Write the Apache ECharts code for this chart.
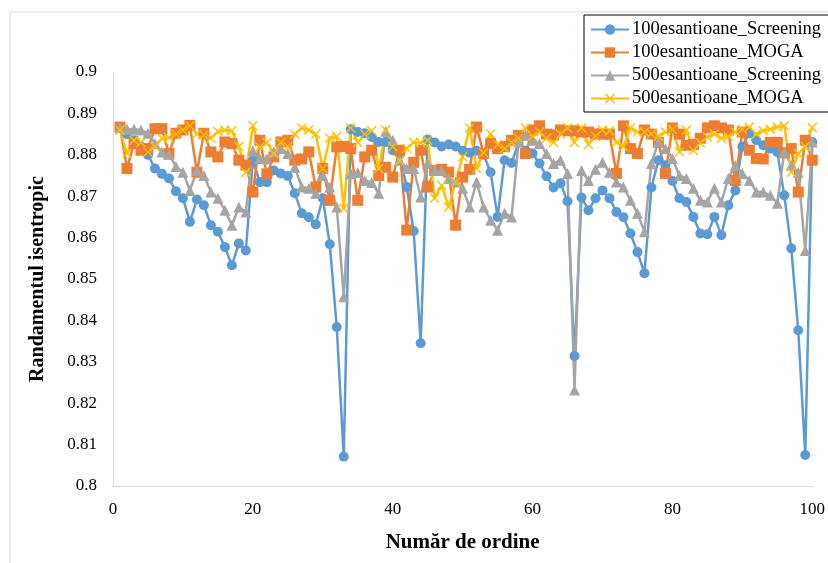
<!DOCTYPE html>
<html>
<head>
<meta charset="utf-8">
<script src="https://cdn.jsdelivr.net/npm/echarts@6/dist/echarts.min.js"></script>
<style>
  html, body { margin: 0; padding: 0; background: #fff; }
  #chart { width: 828px; height: 563px; }
</style>
</head>
<body>
<div id="chart"></div>
<script>
// Sample index (1..100)
const sampleIndex = Array.from({ length: 100 }, (_, k) => k + 1);

const seriesNames = [
  '100esantioane_Screening',
  '100esantioane_MOGA',
  '500esantioane_Screening',
  '500esantioane_MOGA'
];

const screening100 = [
  0.8866, 0.8850, 0.8835, 0.8820, 0.8800, 0.8767, 0.8754, 0.8743, 0.8712, 0.8695,
  0.8638, 0.8692, 0.8678, 0.8630, 0.8614, 0.8577, 0.8533, 0.8586, 0.8569, 0.8786,
  0.8734, 0.8734, 0.8762, 0.8755, 0.8749, 0.8707, 0.8659, 0.8649, 0.8632, 0.8695,
  0.8584, 0.8384, 0.8071, 0.8862, 0.8855, 0.8852, 0.8843, 0.8831, 0.8831, 0.8811,
  0.8800, 0.8722, 0.8616, 0.8345, 0.8837, 0.8830, 0.8820, 0.8825, 0.8820, 0.8810,
  0.8805, 0.8810, 0.8800, 0.8758, 0.8650, 0.8787, 0.8780, 0.8830, 0.8810, 0.8803,
  0.8779, 0.8748, 0.8721, 0.8731, 0.8688, 0.8314, 0.8697, 0.8666, 0.8695, 0.8714,
  0.8695, 0.8662, 0.8649, 0.8610, 0.8565, 0.8514, 0.8721, 0.8787, 0.8775, 0.8737,
  0.8695, 0.8686, 0.8650, 0.8610, 0.8608, 0.8650, 0.8606, 0.8678, 0.8714, 0.8820,
  0.8852, 0.8835, 0.8823, 0.8815, 0.8807, 0.8702, 0.8574, 0.8376, 0.8075, 0.8831
];

const moga100 = [
  0.8867, 0.8767, 0.8827, 0.8811, 0.8815, 0.8863, 0.8863, 0.8803, 0.8852, 0.8860,
  0.8871, 0.8758, 0.8852, 0.8807, 0.8795, 0.8831, 0.8827, 0.8787, 0.8775, 0.8710,
  0.8835, 0.8754, 0.8795, 0.8831, 0.8835, 0.8787, 0.8790, 0.8807, 0.8722, 0.8767,
  0.8690, 0.8819, 0.8820, 0.8815, 0.8690, 0.8795, 0.8811, 0.8750, 0.8770, 0.8746,
  0.8811, 0.8618, 0.8782, 0.8811, 0.8722, 0.8762, 0.8765, 0.8758, 0.8630, 0.8746,
  0.8765, 0.8867, 0.8803, 0.8827, 0.8815, 0.8820, 0.8835, 0.8847, 0.8803, 0.8860,
  0.8870, 0.8850, 0.8848, 0.8860, 0.8858, 0.8858, 0.8855, 0.8855, 0.8850, 0.8850,
  0.8850, 0.8755, 0.8870, 0.8815, 0.8803, 0.8860, 0.8850, 0.8830, 0.8755, 0.8865,
  0.8850, 0.8823, 0.8825, 0.8840, 0.8865, 0.8870, 0.8865, 0.8860, 0.8738, 0.8855,
  0.8811, 0.8791, 0.8790, 0.8830, 0.8830, 0.8805, 0.8815, 0.8710, 0.8835, 0.8787
];

const screening500 = [
  0.8866, 0.8862, 0.8862, 0.8860, 0.8852, 0.8827, 0.8807, 0.8801, 0.8772, 0.8758,
  0.8714, 0.8762, 0.8750, 0.8710, 0.8695, 0.8666, 0.8630, 0.8674, 0.8662, 0.8810,
  0.8791, 0.8790, 0.8807, 0.8815, 0.8803, 0.8770, 0.8722, 0.8719, 0.8707, 0.8750,
  0.8722, 0.8674, 0.8457, 0.8755, 0.8757, 0.8738, 0.8733, 0.8707, 0.8857, 0.8835,
  0.8787, 0.8767, 0.8767, 0.8698, 0.8779, 0.8762, 0.8762, 0.8743, 0.8734, 0.8719,
  0.8674, 0.8734, 0.8674, 0.8642, 0.8618, 0.8659, 0.8650, 0.8831, 0.8847, 0.8835,
  0.8827, 0.8803, 0.8779, 0.8787, 0.8755, 0.8232, 0.8762, 0.8738, 0.8765, 0.8782,
  0.8758, 0.8734, 0.8722, 0.8690, 0.8659, 0.8614, 0.8779, 0.8831, 0.8815, 0.8791,
  0.8750, 0.8743, 0.8719, 0.8690, 0.8686, 0.8719, 0.8686, 0.8743, 0.8774, 0.8755,
  0.8738, 0.8710, 0.8710, 0.8702, 0.8683, 0.8807, 0.8775, 0.8758, 0.8569, 0.8831
];

const moga500 = [
  0.8860, 0.8803, 0.8835, 0.8830, 0.8807, 0.8820, 0.8840, 0.8842, 0.8850, 0.8860,
  0.8870, 0.8850, 0.8848, 0.8840, 0.8856, 0.8860, 0.8858, 0.8820, 0.8758, 0.8870,
  0.8819, 0.8830, 0.8803, 0.8830, 0.8820, 0.8850, 0.8865, 0.8860, 0.8850, 0.8767,
  0.8840, 0.8845, 0.8670, 0.8865, 0.8830, 0.8850, 0.8858, 0.8767, 0.8860, 0.8820,
  0.8787, 0.8815, 0.8830, 0.8830, 0.8835, 0.8695, 0.8726, 0.8674, 0.8734, 0.8795,
  0.8865, 0.8767, 0.8805, 0.8850, 0.8825, 0.8815, 0.8830, 0.8840, 0.8865, 0.8845,
  0.8855, 0.8840, 0.8830, 0.8850, 0.8865, 0.8830, 0.8865, 0.8825, 0.8845, 0.8860,
  0.8858, 0.8830, 0.8820, 0.8865, 0.8855, 0.8855, 0.8850, 0.8845, 0.8855, 0.8862,
  0.8807, 0.8860, 0.8811, 0.8829, 0.8843, 0.8850, 0.8840, 0.8845, 0.8855, 0.8862,
  0.8867, 0.8850, 0.8858, 0.8862, 0.8867, 0.8870, 0.8758, 0.8803, 0.8820, 0.8866
];

const xTicks = [0, 20, 40, 60, 80, 100];
const yTicks = [0.8, 0.81, 0.82, 0.83, 0.84, 0.85, 0.86, 0.87, 0.88, 0.89, 0.9];

const FONT = '"Liberation Serif", "Times New Roman", serif';
const crossPath = 'path://M0,1L1,0L5,4L9,0L10,1L6,5L10,9L9,10L5,6L1,10L0,9L4,5Z';

function pairs(values) {
  return sampleIndex.map((x, k) => [x, values[k]]);
}

function lineSeries(name, values, color, symbol, size) {
  return {
    name: name,
    type: 'line',
    data: pairs(values),
    symbol: symbol,
    symbolSize: size,
    showSymbol: true,
    lineStyle: { color: color, width: 2.5 },
    itemStyle: { color: color },
    emphasis: { disabled: true }
  };
}

const chart = echarts.init(document.getElementById('chart'), null, { renderer: 'canvas' });

chart.setOption({
  animation: false,
  backgroundColor: '#ffffff',
  graphic: [{
    type: 'rect',
    shape: { x: 10, y: 12, width: 840, height: 580 },
    style: { fill: 'none', stroke: '#d9d9d9', lineWidth: 1 },
    silent: true,
    z: -10
  }],
  grid: { left: 113, right: 15, top: 72, bottom: 77, containLabel: false },
  legend: {
    data: seriesNames,
    orient: 'vertical',
    left: 584,
    top: 15,
    itemWidth: 38,
    itemHeight: 13,
    itemGap: 4,
    padding: [5, 12, 4, 6],
    borderColor: '#000',
    borderWidth: 1,
    backgroundColor: '#fff',
    textStyle: { fontFamily: FONT, fontSize: 18.5, color: '#000', padding: [0, 0, 0, -2] }
  },
  xAxis: {
    type: 'value',
    min: xTicks[0],
    max: xTicks[xTicks.length - 1],
    interval: 20,
    name: 'Număr de ordine',
    nameLocation: 'middle',
    nameGap: 46,
    nameTextStyle: { fontFamily: FONT, fontSize: 21, fontWeight: 'bold', color: '#000' },
    axisLine: { show: true, lineStyle: { color: '#d9d9d9', width: 1 } },
    axisTick: { show: false },
    splitLine: { show: false },
    axisLabel: { fontFamily: FONT, fontSize: 17, color: '#000', margin: 15 }
  },
  yAxis: {
    type: 'value',
    min: yTicks[0],
    max: yTicks[yTicks.length - 1],
    interval: 0.01,
    name: 'Randamentul isentropic',
    nameLocation: 'middle',
    nameGap: 65,
    nameTextStyle: { fontFamily: FONT, fontSize: 20, fontWeight: 'bold', color: '#000' },
    axisLine: { show: true, lineStyle: { color: '#d9d9d9', width: 1 } },
    axisTick: { show: false },
    splitLine: { show: false },
    axisLabel: {
      fontFamily: FONT, fontSize: 17, color: '#000', margin: 16,
      formatter: v => String(parseFloat(v.toFixed(2)))
    }
  },
  series: [
    lineSeries(seriesNames[0], screening100, '#5B9BD5', 'circle', 10),
    lineSeries(seriesNames[1], moga100, '#ED7D31', 'rect', 11),
    lineSeries(seriesNames[2], screening500, '#A5A5A5', 'triangle', 11),
    lineSeries(seriesNames[3], moga500, '#FFC000', crossPath, 10)
  ]
});
</script>
</body>
</html>
